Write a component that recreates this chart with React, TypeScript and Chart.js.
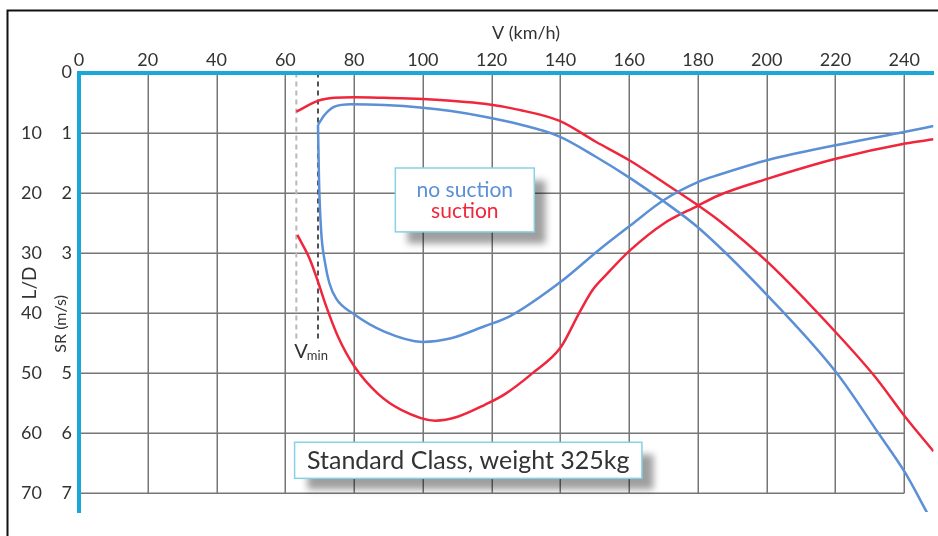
import React, { useEffect, useRef } from 'react';
import { Chart, registerables } from 'chart.js';

Chart.register(...registerables);

// ---------- data ----------
const xTicks = [0, 20, 40, 60, 80, 100, 120, 140, 160, 180, 200, 220, 240];
const srTicks = [0, 1, 2, 3, 4, 5, 6, 7];
const srTickLabels = ['0', '1', '2', '3', '', '5', '6', '7'];
const ldTicks = [10, 20, 30, 40, 50, 60, 70];

// no suction: sink rate (m/s)
const noSuctionSinkV = [69.5, 71.4, 74.3, 79.2, 88.8, 99.9, 108.2, 117.9, 128, 139.6, 150.3, 160.4, 169.5, 180.3, 200.6, 220.4, 232.5, 240.3, 247.0, 248.6];
const noSuctionSinkSR = [0.87, 0.705, 0.567, 0.527, 0.54, 0.584, 0.64, 0.734, 0.86, 1.06, 1.4, 1.76, 2.12, 2.59, 3.73, 5.0, 6.0, 6.66, 7.36, 7.52];

// no suction: glide ratio L/D
const noSuctionLDV = [69.5, 69.8, 70.4, 71.6, 72.8, 74.8, 79.6, 88.8, 99.9, 108.2, 117.9, 125.1, 140.1, 151.2, 160.4, 170.1, 180.3, 186.1, 200.6, 220.4, 240.3, 248.5];
const noSuctionLD = [8.7, 17.9, 26.2, 31.8, 35.0, 37.6, 40.05, 43.1, 44.8, 44.2, 42.2, 40.6, 34.8, 29.5, 25.4, 21.2, 18.15, 17.0, 14.5, 12.05, 9.83, 8.9];

// suction: sink rate (m/s)
const suctionSinkV = [63.2, 69.5, 74.3, 80.1, 88.8, 99.9, 108.2, 117.9, 128, 139.6, 150.3, 160.4, 170.6, 179.8, 186.1, 200.6, 220.4, 231.5, 240.3, 248.5];
const suctionSinkSR = [0.65, 0.47, 0.42, 0.41, 0.42, 0.44, 0.47, 0.52, 0.62, 0.8, 1.15, 1.47, 1.85, 2.2, 2.46, 3.17, 4.34, 5.06, 5.73, 6.3];

// suction: glide ratio L/D
const suctionLDV = [63.5, 67.1, 69.5, 71.9, 75.3, 80.1, 86.9, 93.7, 103.6, 110.1, 117.9, 124.1, 131.9, 140.1, 145.4, 149.3, 153.2, 160.4, 170.1, 179.8, 186.1, 200.6, 220.4, 240.3, 248.5];
const suctionLD = [27.0, 31.0, 34.8, 38.9, 43.9, 48.9, 53.4, 56.1, 57.9, 57.25, 55.3, 53.4, 50.0, 45.7, 40.05, 36.2, 33.7, 29.5, 25.1, 22.2, 20.4, 17.6, 14.3, 11.8, 11.1];

const vMinSuction = 63.2;
const vMinNoSuction = 69.5;

const BLUE = '#5b8fd6';
const RED = '#f0263d';
const CYAN = '#1ba8d9';
const TEXT = '#333333';
const FONT = 'Lato, "Open Sans", sans-serif';

const pts = (xs: number[], ys: number[]) => xs.map((x, i) => ({ x, y: ys[i] }));

const deco = {
  id: 'deco',
  beforeDraw(chart: any) {
    const { ctx, width, height, scales } = chart;
    const x = scales.x;
    const y = scales.ySR;
    ctx.save();
    ctx.fillStyle = '#ffffff';
    ctx.fillRect(0, 0, width, height);
    // outer frame
    ctx.strokeStyle = '#111';
    ctx.lineWidth = 2;
    ctx.beginPath();
    ctx.moveTo(7.5, height + 4);
    ctx.lineTo(7.5, 10.5);
    ctx.lineTo(width + 4, 10.5);
    ctx.stroke();
    // grid
    const gx0 = x.getPixelForValue(xTicks[0]);
    const gx1 = x.getPixelForValue(xTicks[xTicks.length - 1]);
    const gy0 = y.getPixelForValue(srTicks[0]);
    const gy1 = y.getPixelForValue(srTicks[srTicks.length - 1]);
    ctx.strokeStyle = '#767676';
    ctx.lineWidth = 1.5;
    ctx.beginPath();
    xTicks.slice(1).forEach((v) => {
      const px = Math.round(x.getPixelForValue(v)) + 0.25;
      ctx.moveTo(px, gy0);
      ctx.lineTo(px, gy1);
    });
    srTicks.slice(1).forEach((v) => {
      const py = Math.round(y.getPixelForValue(v)) + 0.25;
      ctx.moveTo(gx0, py);
      ctx.lineTo(gx1, py);
    });
    ctx.stroke();
    // Vmin dashed lines
    ctx.lineWidth = 2;
    ctx.setLineDash([5, 4]);
    ctx.strokeStyle = '#b8b8b8';
    ctx.beginPath();
    ctx.moveTo(x.getPixelForValue(vMinSuction), gy0);
    ctx.lineTo(x.getPixelForValue(vMinSuction), y.getPixelForValue(4.45));
    ctx.stroke();
    ctx.strokeStyle = '#505050';
    ctx.beginPath();
    ctx.moveTo(x.getPixelForValue(vMinNoSuction), gy0);
    ctx.lineTo(x.getPixelForValue(vMinNoSuction), y.getPixelForValue(4.45));
    ctx.stroke();
    ctx.restore();
  },
  afterDatasetsDraw(chart: any) {
    const { ctx, scales, chartArea } = chart;
    const x = scales.x;
    const y = scales.ySR;
    const yl = scales.yLD;
    ctx.save();
    const box = (l: number, t: number, r: number, b: number) => {
      ctx.save();
      ctx.shadowColor = 'rgba(0,0,0,0.38)';
      ctx.shadowBlur = 7;
      ctx.shadowOffsetX = 12;
      ctx.shadowOffsetY = 12;
      ctx.fillStyle = '#ffffff';
      ctx.fillRect(l, t, r - l, b - t);
      ctx.restore();
      ctx.strokeStyle = '#86d2e4';
      ctx.lineWidth = 1.5;
      ctx.strokeRect(l, t, r - l, b - t);
    };
    // legend box
    const lL = x.getPixelForValue(92), lR = x.getPixelForValue(132.4);
    const lT = y.getPixelForValue(1.587), lB = y.getPixelForValue(2.65);
    box(lL, lT, lR, lB);
    ctx.textAlign = 'center';
    ctx.textBaseline = 'middle';
    ctx.font = `21px ${FONT}`;
    ctx.fillStyle = BLUE;
    ctx.fillText('no suction', (lL + lR) / 2, lT + 22);
    ctx.fillStyle = RED;
    ctx.fillText('suction', (lL + lR) / 2, lT + 43);
    // class box
    const cL = x.getPixelForValue(62.7), cR = x.getPixelForValue(163.7);
    const cT = y.getPixelForValue(6.15), cB = y.getPixelForValue(6.75);
    box(cL, cT, cR, cB);
    ctx.fillStyle = TEXT;
    ctx.font = `25px ${FONT}`;
    ctx.fillText('Standard Class, weight 325kg', (cL + cR) / 2, (cT + cB) / 2 + 1);
    // Vmin label
    ctx.textAlign = 'left';
    ctx.textBaseline = 'alphabetic';
    ctx.font = `20px ${FONT}`;
    const vx = x.getPixelForValue(vMinSuction) - 2;
    const vy = y.getPixelForValue(4.75);
    ctx.fillText('V', vx, vy);
    const vw = ctx.measureText('V').width;
    ctx.font = `13px ${FONT}`;
    ctx.fillText('min', vx + vw - 1, vy + 2);
    // axis titles
    ctx.textAlign = 'center';
    ctx.textBaseline = 'middle';
    ctx.font = `18px ${FONT}`;
    ctx.fillText('V (km/h)', x.getPixelForValue(130), chartArea.top - 39);
    ctx.save();
    ctx.translate(30, yl.getPixelForValue(35));
    ctx.rotate(-Math.PI / 2);
    ctx.font = `19px ${FONT}`;
    ctx.fillText('L/D', 0, 0);
    ctx.restore();
    ctx.save();
    ctx.translate(61, y.getPixelForValue(4.18));
    ctx.rotate(-Math.PI / 2);
    ctx.font = `16px ${FONT}`;
    ctx.fillText('SR (m/s)', 0, 0);
    ctx.restore();
    ctx.restore();
  },
};

export default function App() {
  const ref = useRef<HTMLCanvasElement | null>(null);
  useEffect(() => {
    document.body.style.margin = '0';
    const canvas = ref.current;
    if (!canvas) return;
    const tickFont = { family: FONT, size: 18 };
    const chart = new Chart(canvas, {
      type: 'line',
      data: {
        datasets: [
          { label: 'no suction SR', data: pts(noSuctionSinkV, noSuctionSinkSR), yAxisID: 'ySR', borderColor: BLUE },
          { label: 'no suction L/D', data: pts(noSuctionLDV, noSuctionLD), yAxisID: 'yLD', borderColor: BLUE },
          { label: 'suction SR', data: pts(suctionSinkV, suctionSinkSR), yAxisID: 'ySR', borderColor: RED },
          { label: 'suction L/D', data: pts(suctionLDV, suctionLD), yAxisID: 'yLD', borderColor: RED },
        ] as any,
      },
      options: {
        animation: false,
        responsive: false,
        maintainAspectRatio: false,
        devicePixelRatio: 1,
        layout: { padding: { left: 0, top: 0, right: 4.5, bottom: 24 } },
        elements: {
          line: { borderWidth: 2.5, cubicInterpolationMode: 'monotone', fill: false },
          point: { radius: 0, hoverRadius: 0 },
        },
        plugins: { legend: { display: false }, tooltip: { enabled: false } },
        scales: {
          x: {
            type: 'linear',
            position: 'top',
            min: 0,
            max: 248.5,
            grid: { display: false, drawTicks: false },
            border: { display: true, color: CYAN, width: 4 },
            ticks: { font: tickFont, color: TEXT, padding: 2, maxRotation: 0 },
            afterBuildTicks: (s: any) => { s.ticks = xTicks.map((v) => ({ value: v })); },
            afterFit: (s: any) => { s.height = 72.6; },
          },
          ySR: {
            type: 'linear',
            position: 'left',
            reverse: true,
            min: 0,
            max: 7.31,
            weight: 0,
            grid: { display: false, drawTicks: false },
            border: { display: true, color: CYAN, width: 4 },
            ticks: {
              font: tickFont,
              color: TEXT,
              padding: 7,
              callback: (v: any) => {
                const i = srTicks.indexOf(Number(v));
                return i >= 0 ? srTickLabels[i] : '';
              },
            },
            afterBuildTicks: (s: any) => { s.ticks = srTicks.map((v) => ({ value: v })); },
            afterFit: (s: any) => { s.width = 30; },
          },
          yLD: {
            type: 'linear',
            position: 'left',
            reverse: true,
            min: 0,
            max: 73.1,
            weight: 1,
            grid: { display: false, drawTicks: false },
            border: { display: false },
            ticks: { font: tickFont, color: TEXT, padding: 7 },
            afterBuildTicks: (s: any) => { s.ticks = ldTicks.map((v) => ({ value: v })); },
            afterFit: (s: any) => { s.width = 49; },
          },
        },
      } as any,
      plugins: [deco],
    });
    return () => chart.destroy();
  }, []);
  return (
    <div style={{ width: 938, height: 536 }}>
      <canvas ref={ref} width={938} height={536} style={{ display: 'block', width: 938, height: 536 }} />
    </div>
  );
}
